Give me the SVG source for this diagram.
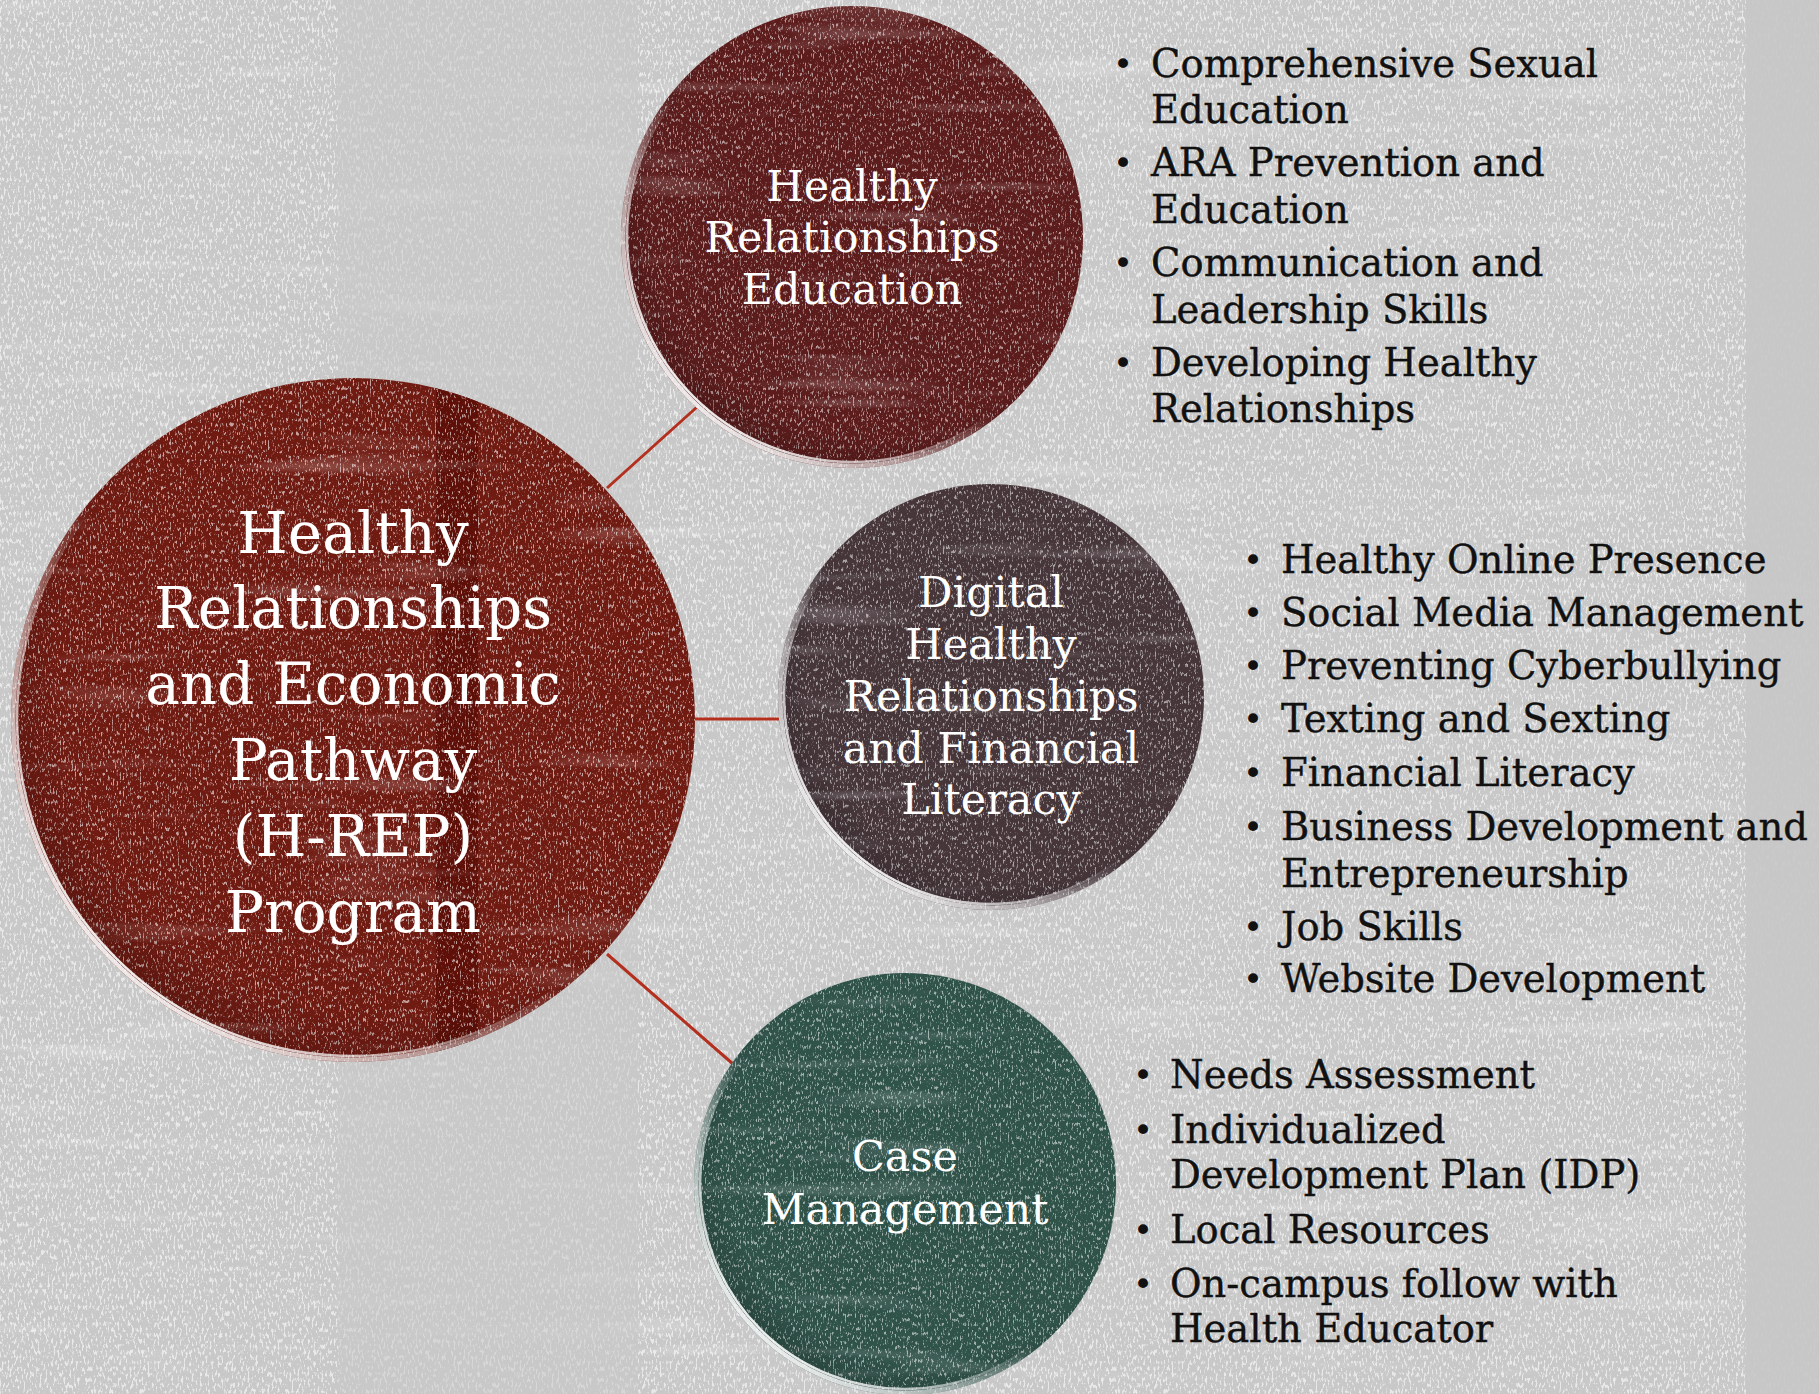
<svg xmlns="http://www.w3.org/2000/svg" width="1819" height="1394" viewBox="0 0 1819 1394">
<style>
.lbl{font-family:"DejaVu Serif","Liberation Serif",serif;fill:#ffffff;text-anchor:middle}
.main{font-size:58px}
.sub{font-size:43px}
.li{font-family:"DejaVu Serif","Liberation Serif",serif;font-size:38.5px;fill:#111111;stroke:#111111;stroke-width:0.4}
.bul{font-family:"DejaVu Sans",sans-serif;font-size:34px;fill:#111111;text-anchor:middle}
.con{stroke:#b3301f;stroke-width:3;fill:none}
.rim{fill:none;stroke:url(#rim);stroke-width:9}
.rim2{fill:none;stroke:url(#rim);stroke-width:2.5}
</style>
<defs>
<filter id="bgNoise" x="0" y="0" width="100%" height="100%">
<feTurbulence type="fractalNoise" baseFrequency="0.5 0.18" numOctaves="3" seed="7" result="n"/>
<feColorMatrix in="n" type="matrix" values="0 0 0 0 1 0 0 0 0 1 0 0 0 0 1 7 0 0 0 -3.7"/>
</filter>
<filter id="speck" x="0" y="0" width="100%" height="100%">
<feTurbulence type="fractalNoise" baseFrequency="0.6 0.22" numOctaves="3" seed="11" result="n"/>
<feColorMatrix in="n" type="matrix" values="0 0 0 0 1 0 0 0 0 1 0 0 0 0 1 6 0 0 0 -3.4"/>
</filter>
<filter id="streak" x="0" y="0" width="100%" height="100%">
<feTurbulence type="fractalNoise" baseFrequency="0.004 0.05" numOctaves="2" seed="4" result="n"/>
<feColorMatrix in="n" type="matrix" values="0 0 0 0 1 0 0 0 0 1 0 0 0 0 1 4 0 0 0 -2.4"/>
</filter>
<linearGradient id="rim" x1="0.1" y1="0.9" x2="0.7" y2="0.3">
<stop offset="0" stop-color="#ffffff" stop-opacity="1"/>
<stop offset="0.35" stop-color="#ffffff" stop-opacity="0.55"/>
<stop offset="0.6" stop-color="#ffffff" stop-opacity="0"/>
</linearGradient>
<radialGradient id="shade" cx="0.55" cy="0.45" r="0.6">
<stop offset="0.8" stop-color="#000000" stop-opacity="0"/>
<stop offset="1" stop-color="#000000" stop-opacity="0.25"/>
</radialGradient>
<clipPath id="cMain"><circle cx="353" cy="720" r="342"/></clipPath>
<clipPath id="cTop"><circle cx="852" cy="237" r="231"/></clipPath>
<clipPath id="cMid"><circle cx="991" cy="697" r="213"/></clipPath>
<clipPath id="cBot"><circle cx="905" cy="1184" r="211"/></clipPath>
</defs>

<g id="background">
<rect x="0" y="0" width="1819" height="1394" fill="#c8c8c8"/>
<rect x="0" y="0" width="1819" height="1394" filter="url(#bgNoise)" opacity="0.6"/>
<rect x="0" y="0" width="1819" height="1394" filter="url(#streak)" opacity="0.18"/>
<rect x="338" y="0" width="300" height="1394" fill="#c8c8c8" opacity="0.55"/>
<rect x="1746" y="0" width="73" height="1394" fill="#c6c6c6" opacity="0.9"/>
</g>

<g id="connectors">
<line class="con" x1="607" y1="488" x2="697" y2="407"/>
<line class="con" x1="694" y1="719" x2="779" y2="719"/>
<line class="con" x1="607" y1="954" x2="733" y2="1064"/>
</g>

<g id="node-main">
<circle cx="353" cy="720" r="342" fill="#701b12"/>
<g clip-path="url(#cMain)">
<rect x="436" y="370" width="42" height="700" fill="#5e0f08"/>
<rect x="0" y="370" width="700" height="700" filter="url(#speck)" opacity="0.6"/>
<rect x="0" y="370" width="700" height="700" filter="url(#streak)" opacity="0.18"/>
<circle cx="353" cy="720" r="342" fill="url(#shade)"/>
<circle class="rim" cx="353" cy="720" r="342"/>
</g>
<circle class="rim2" cx="353" cy="720" r="336"/>
<text class="lbl main" x="353" y="553">Healthy</text>
<text class="lbl main" x="353" y="628">Relationships</text>
<text class="lbl main" x="353" y="704">and Economic</text>
<text class="lbl main" x="353" y="780">Pathway</text>
<text class="lbl main" x="353" y="856">(H-REP)</text>
<text class="lbl main" x="353" y="932">Program</text>
</g>

<g id="node-hre">
<circle cx="852" cy="237" r="231" fill="#5c1c1c"/>
<g clip-path="url(#cTop)">
<rect x="615" y="0" width="475" height="475" filter="url(#speck)" opacity="0.55"/>
<rect x="615" y="0" width="475" height="475" filter="url(#streak)" opacity="0.18"/>
<circle cx="852" cy="237" r="231" fill="url(#shade)"/>
<circle class="rim" cx="852" cy="237" r="231"/>
</g>
<circle class="rim2" cx="852" cy="237" r="225"/>
<text class="lbl sub" x="852" y="201">Healthy</text>
<text class="lbl sub" x="852" y="252">Relationships</text>
<text class="lbl sub" x="852" y="304">Education</text>
</g>

<g id="node-digital">
<circle cx="991" cy="697" r="213" fill="#46363a"/>
<g clip-path="url(#cMid)">
<rect x="770" y="480" width="445" height="440" filter="url(#speck)" opacity="0.55"/>
<rect x="770" y="480" width="445" height="440" filter="url(#streak)" opacity="0.18"/>
<circle cx="991" cy="697" r="213" fill="url(#shade)"/>
<circle class="rim" cx="991" cy="697" r="213"/>
</g>
<circle class="rim2" cx="991" cy="697" r="207"/>
<text class="lbl sub" x="991" y="607">Digital</text>
<text class="lbl sub" x="991" y="659">Healthy</text>
<text class="lbl sub" x="991" y="711">Relationships</text>
<text class="lbl sub" x="991" y="763">and Financial</text>
<text class="lbl sub" x="991" y="814">Literacy</text>
</g>

<g id="node-case">
<circle cx="905" cy="1184" r="211" fill="#2f5249"/>
<g clip-path="url(#cBot)">
<rect x="690" y="970" width="430" height="424" filter="url(#speck)" opacity="0.55"/>
<rect x="690" y="970" width="430" height="424" filter="url(#streak)" opacity="0.18"/>
<circle cx="905" cy="1184" r="211" fill="url(#shade)"/>
<circle class="rim" cx="905" cy="1184" r="211"/>
</g>
<circle class="rim2" cx="905" cy="1184" r="205"/>
<text class="lbl sub" x="905" y="1171">Case</text>
<text class="lbl sub" x="905" y="1224">Management</text>
</g>

<g id="list-hre">
<text class="bul" x="1123" y="76">•</text>
<text class="bul" x="1123" y="175">•</text>
<text class="bul" x="1123" y="275">•</text>
<text class="bul" x="1123" y="375">•</text>
<text class="li" x="1151" y="77">Comprehensive Sexual</text>
<text class="li" x="1151" y="123">Education</text>
<text class="li" x="1151" y="176">ARA Prevention and</text>
<text class="li" x="1151" y="223">Education</text>
<text class="li" x="1151" y="276">Communication and</text>
<text class="li" x="1151" y="323">Leadership Skills</text>
<text class="li" x="1151" y="376">Developing Healthy</text>
<text class="li" x="1151" y="422">Relationships</text>
</g>

<g id="list-digital">
<text class="bul" x="1253" y="572">•</text>
<text class="bul" x="1253" y="625">•</text>
<text class="bul" x="1253" y="678">•</text>
<text class="bul" x="1253" y="731">•</text>
<text class="bul" x="1253" y="785">•</text>
<text class="bul" x="1253" y="839">•</text>
<text class="bul" x="1253" y="939">•</text>
<text class="bul" x="1253" y="991">•</text>
<text class="li" x="1281" y="573">Healthy Online Presence</text>
<text class="li" x="1281" y="626">Social Media Management</text>
<text class="li" x="1281" y="679">Preventing Cyberbullying</text>
<text class="li" x="1281" y="732">Texting and Sexting</text>
<text class="li" x="1281" y="786">Financial Literacy</text>
<text class="li" x="1281" y="840">Business Development and</text>
<text class="li" x="1281" y="887">Entrepreneurship</text>
<text class="li" x="1281" y="940">Job Skills</text>
<text class="li" x="1281" y="992">Website Development</text>
</g>

<g id="list-case">
<text class="bul" x="1143" y="1087">•</text>
<text class="bul" x="1143" y="1142">•</text>
<text class="bul" x="1143" y="1242">•</text>
<text class="bul" x="1143" y="1296">•</text>
<text class="li" x="1170" y="1088">Needs Assessment</text>
<text class="li" x="1170" y="1143">Individualized</text>
<text class="li" x="1170" y="1188">Development Plan (IDP)</text>
<text class="li" x="1170" y="1243">Local Resources</text>
<text class="li" x="1170" y="1297">On-campus follow with</text>
<text class="li" x="1170" y="1342">Health Educator</text>
</g>
</svg>
